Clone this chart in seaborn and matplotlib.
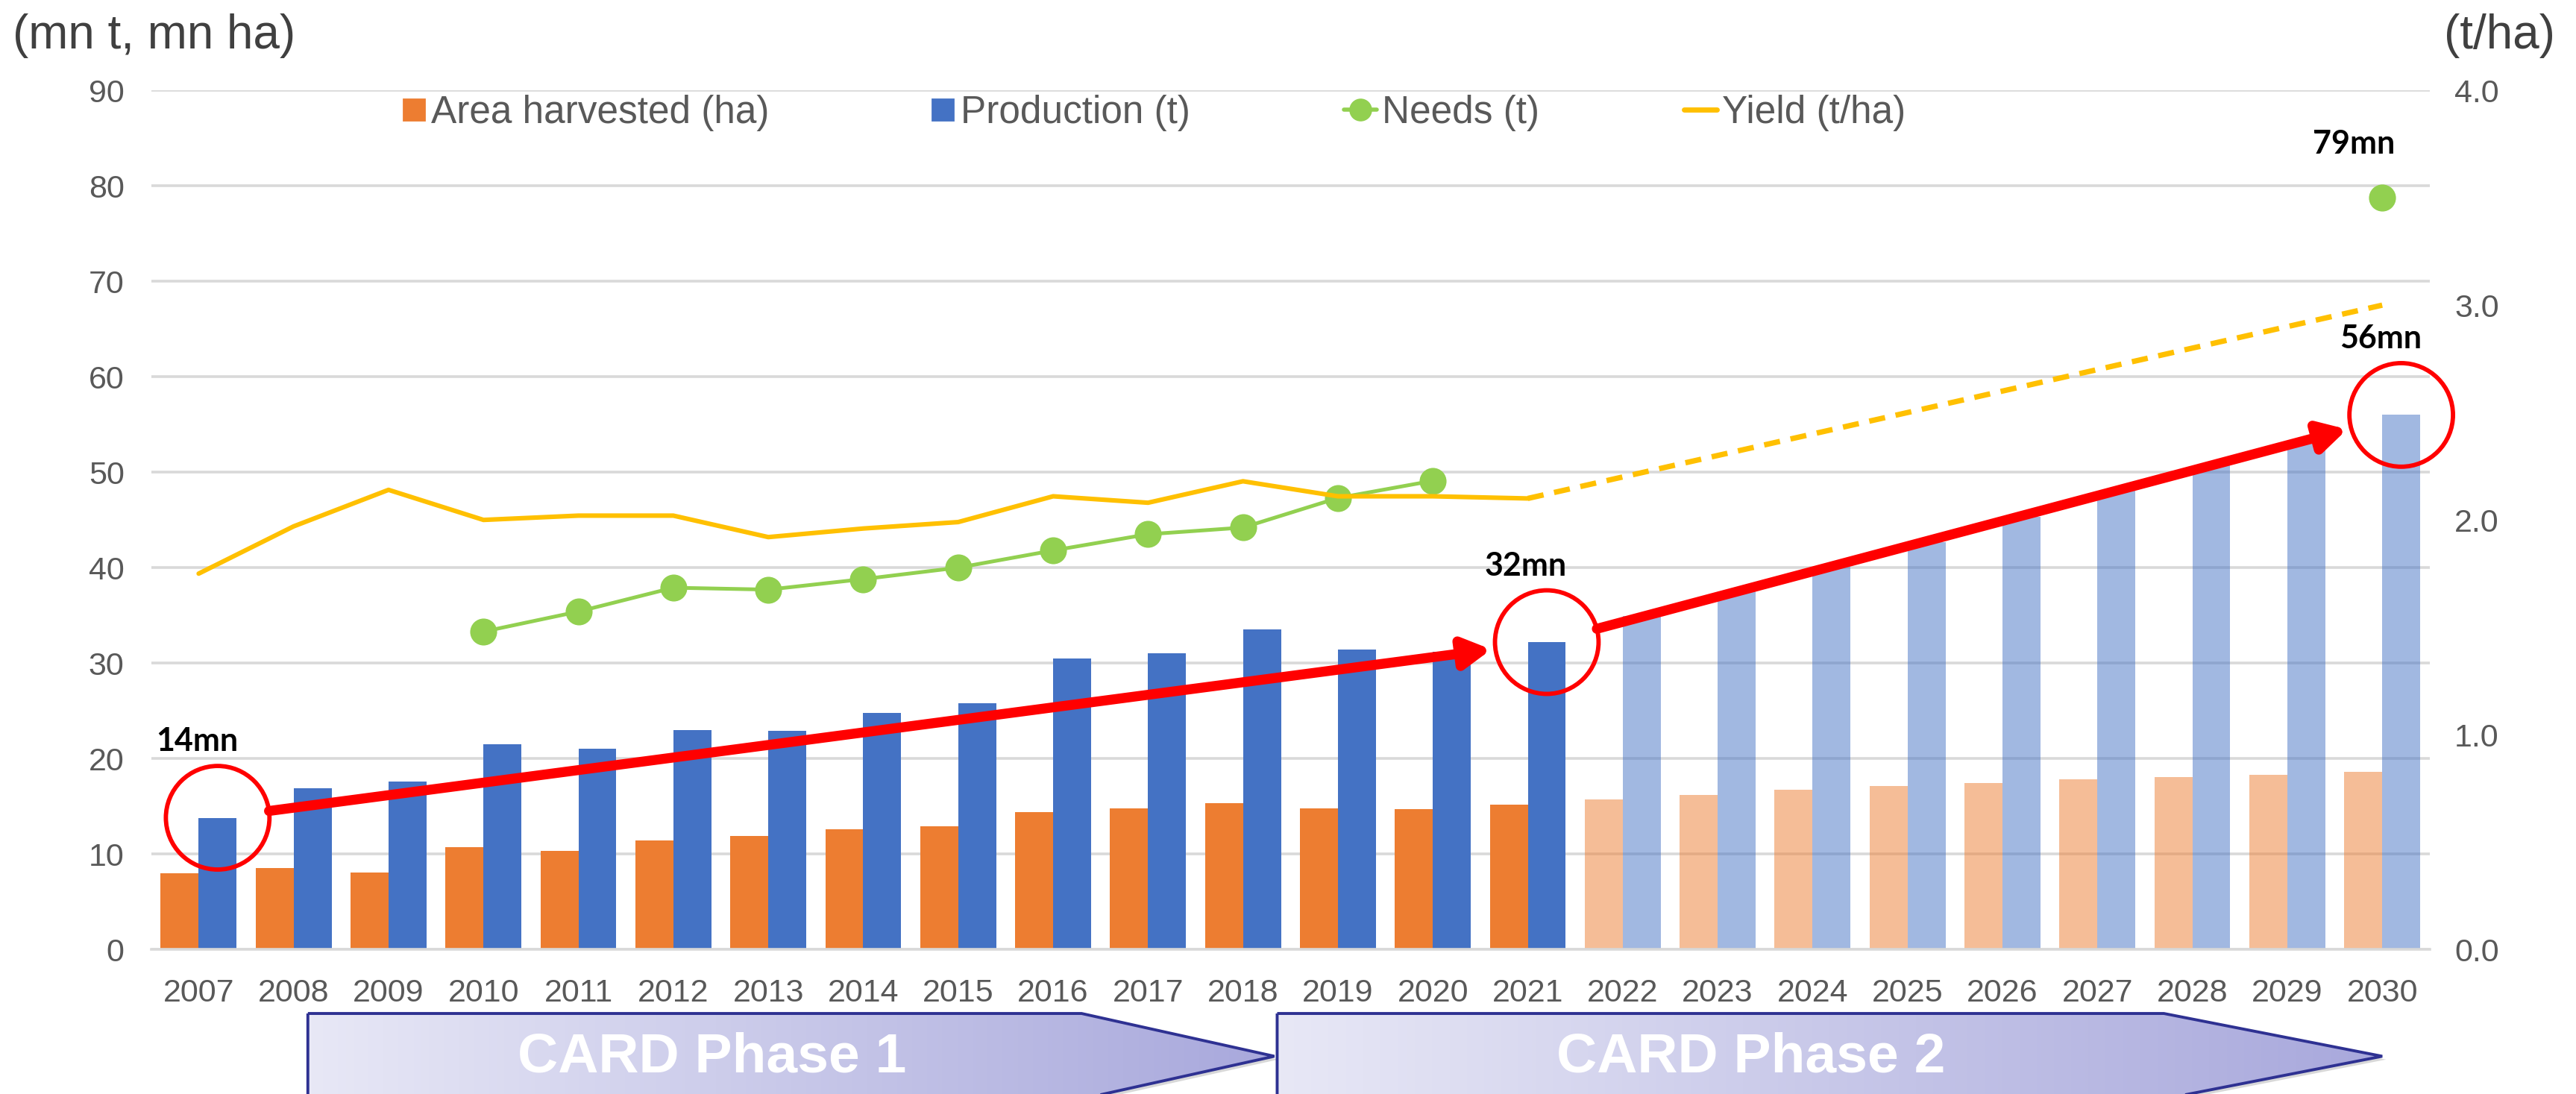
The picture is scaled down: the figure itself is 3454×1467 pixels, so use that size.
import numpy as np
import pandas as pd
import matplotlib
matplotlib.use("Agg")
import matplotlib.pyplot as plt
import seaborn as sns
from matplotlib.patches import Polygon
from matplotlib.lines import Line2D

# ---- data ----
years = [str(y) for y in range(2007, 2031)]
area_harvested = [8.0, 8.5, 8.1, 10.7, 10.3, 11.4, 11.9, 12.6, 12.9, 14.4, 14.8, 15.3,
                  14.8, 14.7, 15.2, 15.7, 16.2, 16.7, 17.1, 17.4, 17.8, 18.1, 18.3, 18.6]
production = [13.8, 16.9, 17.6, 21.5, 21.0, 23.0, 22.9, 24.8, 25.8, 30.5, 31.0, 33.5,
              31.4, 31.2, 32.2, 34.9, 37.5, 40.1, 42.7, 45.3, 48.1, 50.7, 53.4, 56.0]
projected_from = "2022"

needs_years = [str(y) for y in range(2010, 2021)]
needs = [33.3, 35.4, 37.9, 37.7, 38.8, 40.0, 41.8, 43.5, 44.2, 47.3, 49.1]
needs_2030 = 78.8

yield_years = [str(y) for y in range(2007, 2022)]
yield_vals = [1.75, 1.97, 2.14, 2.00, 2.02, 2.02, 1.92, 1.96, 1.99, 2.11, 2.08, 2.18,
              2.11, 2.11, 2.10]
yield_proj_years = ["2021", "2030"]
yield_proj = [2.10, 3.00]

highlight_years = ["2007", "2021", "2030"]
highlight_labels = ["14mn", "32mn", "56mn"]

phases = ["CARD Phase 1", "CARD Phase 2"]

ORANGE = "#ED7D31"
BLUE = "#4472C4"
GREEN = "#92D050"
YELLOW = "#FFC000"
GREY = "#595959"

sns.set_theme(style="white")
plt.rcParams["font.family"] = ["Liberation Sans", "DejaVu Sans"]

fig = plt.figure(figsize=(17.27, 7.335), dpi=200)
ax = fig.add_axes([0.0587, 0.1321, 0.8845, 0.7853])

pos = {y: i for i, y in enumerate(years)}

df = pd.DataFrame({
    "year": years * 2,
    "series": ["Area harvested (ha)"] * len(years) + ["Production (t)"] * len(years),
    "value": area_harvested + production,
})
df["projected"] = df["year"].astype(int) >= int(projected_from)
hue_order = ["Area harvested (ha)", "Production (t)"]

sns.barplot(data=df[~df["projected"]], x="year", y="value", hue="series",
            order=years, hue_order=hue_order, palette=[ORANGE, BLUE],
            saturation=1, width=0.8, linewidth=0, legend=False, ax=ax, zorder=2)
sns.barplot(data=df[df["projected"]], x="year", y="value", hue="series",
            order=years, hue_order=hue_order, palette=[ORANGE, BLUE],
            saturation=1, width=0.8, linewidth=0, alpha=0.5, legend=False, ax=ax, zorder=2)

# needs line
sns.lineplot(x=[pos[y] for y in needs_years], y=needs, color=GREEN, lw=1.8,
             marker="o", markersize=13, markeredgewidth=0, ax=ax, zorder=4)
sns.scatterplot(x=[pos["2030"]], y=[needs_2030], color=GREEN, s=170, linewidth=0,
                ax=ax, zorder=4)

ax.set_xlim(-0.5, len(years) - 0.5)
ax.set_ylim(0, 90)
ax.set_yticks(range(0, 91, 10))
ax.grid(axis="y", color="#D9D9D9", lw=1.3, zorder=0)
ax.set_axisbelow(True)
ax.set_xlabel("")
ax.set_ylabel("")
for s in ["top", "right", "left"]:
    ax.spines[s].set_visible(False)
ax.spines["bottom"].set_color("#D9D9D9")
ax.spines["bottom"].set_linewidth(1.3)
ax.tick_params(axis="both", length=0, labelsize=15.5, labelcolor=GREY)
ax.tick_params(axis="x", pad=14)
ax.tick_params(axis="y", pad=13)

# red circles around highlighted production bars
bar_off = 0.2
cx = [pos[y] + bar_off for y in highlight_years]
cy = [production[pos[y]] for y in highlight_years]
ax.scatter(cx, cy, s=2500, marker="o", facecolors="none", edgecolors="red",
           linewidths=2.1, zorder=6, clip_on=False)
for x, y, lab in zip(cx, cy, highlight_labels):
    ax.text(x - 0.22, y + 8, lab, ha="center", va="center", fontsize=15.5,
            fontweight="bold", color="black", family=["Lato", "DejaVu Sans"], zorder=7)
ax.text(pos["2030"] - 0.3, needs_2030 + 5.6, "79mn", ha="center", va="center",
        fontsize=15.5, fontweight="bold", color="black", family=["Lato", "DejaVu Sans"])

# yield on secondary axis
ax2 = ax.twinx()
sns.lineplot(x=[pos[y] for y in yield_years], y=yield_vals, color=YELLOW, lw=2.2, ax=ax2)
sns.lineplot(x=[pos[y] for y in yield_proj_years], y=yield_proj, color=YELLOW, lw=2.6,
             ax=ax2, dashes=False, linestyle=(0, (3, 2)))
ax2.set_ylim(0, 4)
ax2.set_yticks(np.arange(0, 4.01, 1.0))
ax2.set_yticklabels([f"{v:.1f}" for v in np.arange(0, 4.01, 1.0)])
ax2.grid(False)
for s in ["top", "right", "left", "bottom"]:
    ax2.spines[s].set_visible(False)
ax2.tick_params(axis="y", length=0, labelsize=15.5, labelcolor=GREY, pad=12)
ax2.set_ylabel("")

# red growth arrows between the circles
for x0, y0, x1, y1 in zip(cx[:-1], cy[:-1], cx[1:], cy[1:]):
    ax2.annotate("", xy=(x1, y1), xytext=(x0, y0), xycoords=ax.transData,
                 textcoords=ax.transData,
                 arrowprops=dict(arrowstyle="-|>,head_length=0.36,head_width=0.2",
                                 color="red", lw=4.8, mutation_scale=30,
                                 shrinkA=25, shrinkB=27), zorder=6)

# legend: one entry per box, placed like the original
handles = [
    Line2D([], [], color=ORANGE, marker="s", ls="none", markersize=10, label="Area harvested (ha)"),
    Line2D([], [], color=BLUE, marker="s", ls="none", markersize=10, label="Production (t)"),
    Line2D([], [], color=GREEN, lw=2, marker="o", markersize=11, markeredgewidth=0,
           label="Needs (t)"),
    Line2D([], [], color=YELLOW, lw=2.5, label="Yield (t/ha)"),
]
leg_x = [0.1563, 0.3616, 0.5217, 0.6537]
for h, lx in zip(handles, leg_x):
    hl = 0.6 if h.get_linestyle() == "None" else 0.85
    leg = fig.legend(handles=[h], loc="center left", bbox_to_anchor=(lx, 0.897),
                     frameon=False, fontsize=18.5, handlelength=hl, handletextpad=0.15,
                     borderpad=0, borderaxespad=0)
    for t in leg.get_texts():
        t.set_color(GREY)

# unit labels
fig.text(0.005, 0.967, "(mn t, mn ha)", fontsize=23, color="#404040", ha="left", va="center")
fig.text(0.992, 0.967, "(t/ha)", fontsize=23, color="#404040", ha="right", va="center")

# phase arrows under the axis
strip = fig.add_axes([0.0587, 0.0, 0.8845, 0.09])
strip.axis("off")
spans = [(1.15, 9.3, 11.33), (11.36, 20.7, 23.0)]
top, mid, bot = 0.0736, 0.0345, -0.0045
grad = np.linspace(0, 1, 256).reshape(1, -1)
cmap = matplotlib.colors.LinearSegmentedColormap.from_list("ph", ["#E8E8F6", "#A8A8DC"])
for name, (x0, xn, xt) in zip(phases, spans):
    pts = [(x0, top), (xn, top), (xt, mid), (xn, bot), (x0, bot)]
    shadow = Polygon([(px + 0.04, py - 0.003) for px, py in pts], closed=True,
                     fc="#BFBFBF", ec="none", alpha=0.6, zorder=1)
    strip.add_patch(shadow)
    poly = Polygon(pts, closed=True, fc="none", ec="#2E3192", lw=1.4, zorder=3)
    strip.add_patch(poly)
    im = strip.imshow(grad, extent=[x0, xt, bot, top], aspect="auto", cmap=cmap,
                      zorder=2)
    im.set_clip_path(poly)
    strip.text((x0 + xt) / 2 - 0.83, mid - 0.001, name, ha="center", va="center",
               color="white", fontsize=27, fontweight="bold", zorder=4)
strip.set_xlim(-0.5, len(years) - 0.5)
strip.set_ylim(0, 0.09)

fig.savefig("out.png", dpi=200)
